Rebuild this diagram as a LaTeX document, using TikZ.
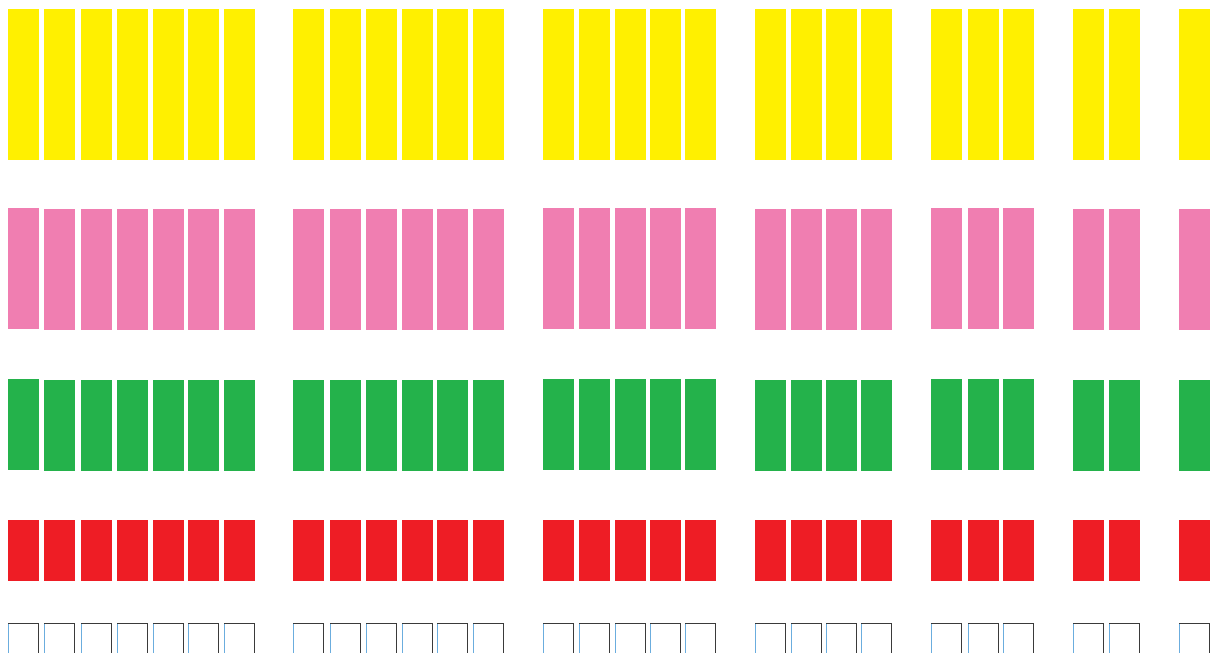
\documentclass[tikz,border=0pt]{standalone}
\definecolor{barY}{HTML}{FFF000}
\definecolor{barP}{HTML}{F07EB1}
\definecolor{barG}{HTML}{24B24B}
\definecolor{barR}{HTML}{EE1D25}
\definecolor{edgeB}{HTML}{2B8AD0}
\definecolor{edgeD}{HTML}{3A3A3A}
\tikzset{
  ybar/.style={fill=barY},
  pbar/.style={fill=barP},
  gbar/.style={fill=barG},
  rbar/.style={fill=barR},
  openbox/.style={draw=edgeD, line width=1.2pt, fill=white},
  leftedge/.style={draw=edgeB!70, line width=1.2pt}
}
\begin{document}
\begin{tikzpicture}[x=1pt,y=-1pt]
\useasboundingbox (0,0) rectangle (1211,653);
\fill[white] (0,0) rectangle (1211,653);
\foreach \x/\s in {8/1,44/0,81/0,117/0,153/0,188/0,224/0,
                   293/0,330/0,366/0,402/0,437/0,473/0,
                   543/1,579/1,615/1,650/1,685/1,
                   755/0,791/0,826/0,861/0,
                   931/1,968/1,1003/1,
                   1073/0,1109/0,
                   1179/0}{
  \fill[ybar] (\x,9) rectangle ++(31,151);
  \fill[pbar] (\x,209-\s) rectangle ++(31,121);
  \fill[gbar] (\x,380-\s) rectangle ++(31,91);
  \fill[rbar] (\x,520) rectangle ++(31,61);
  \draw[openbox] (\x+0.6,623.6) rectangle (\x+30.4,662);
  \draw[leftedge] (\x+0.6,624.2) -- (\x+0.6,662);
}
\end{tikzpicture}
\end{document}
